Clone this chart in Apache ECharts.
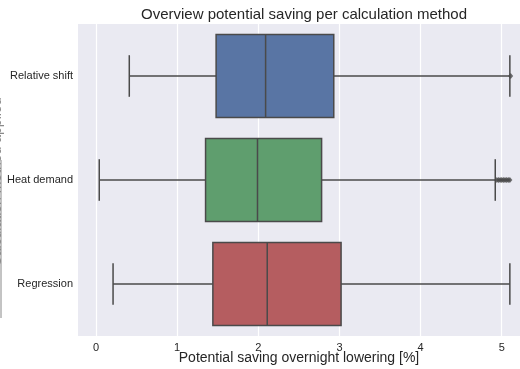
<!DOCTYPE html>
<html>
<head>
<meta charset="utf-8">
<script src="https://cdn.jsdelivr.net/npm/echarts@6/dist/echarts.min.js"></script>
<style>html,body{margin:0;padding:0;background:#fff}#c{width:520px;height:369px}</style>
</head>
<body>
<div id="c"></div>
<script>
var categories = ['Relative shift', 'Heat demand', 'Regression'];
var whiskerLow = [0.41, 0.04, 0.21];
var q1 = [1.48, 1.35, 1.44];
var medians = [2.09, 1.99, 2.11];
var q3 = [2.93, 2.78, 3.02];
var whiskerHigh = [5.10, 4.92, 5.10];
var boxColors = ['#5975A4', '#5F9E6E', '#B55D60'];
var outlierCategory = ['Relative shift', 'Heat demand', 'Heat demand', 'Heat demand', 'Heat demand', 'Heat demand', 'Heat demand', 'Heat demand', 'Heat demand', 'Heat demand'];
var outlierValues = [5.11, 4.94, 4.96, 4.98, 5.00, 5.02, 5.04, 5.06, 5.08, 5.10];
var xTicks = [0, 1, 2, 3, 4, 5];

var chart = echarts.init(document.getElementById('c'), null, {renderer: 'canvas'});
var fontFamily = '"Liberation Sans", Arial, sans-serif';
var edge = '#4a4a4a';

var boxData = categories.map(function (c, i) {
  return [i, whiskerLow[i], q1[i], medians[i], q3[i], whiskerHigh[i]];
});
var outData = outlierValues.map(function (v, i) { return [v, categories.indexOf(outlierCategory[i])]; });

function renderBox(params, api) {
  var ci = api.value(0);
  var band = api.size([0, 1])[1];
  var half = band * 0.4;
  var cap = band * 0.2;
  var pLow = api.coord([api.value(1), ci]);
  var pQ1 = api.coord([api.value(2), ci]);
  var pMed = api.coord([api.value(3), ci]);
  var pQ3 = api.coord([api.value(4), ci]);
  var pHigh = api.coord([api.value(5), ci]);
  var y = pQ1[1];
  var ls = {stroke: edge, lineWidth: 1.5, fill: null};
  return {
    type: 'group',
    children: [
      {type: 'line', shape: {x1: pLow[0], y1: y, x2: pQ1[0], y2: y}, style: ls},
      {type: 'line', shape: {x1: pQ3[0], y1: y, x2: pHigh[0], y2: y}, style: ls},
      {type: 'line', shape: {x1: pLow[0], y1: y - cap, x2: pLow[0], y2: y + cap}, style: ls},
      {type: 'line', shape: {x1: pHigh[0], y1: y - cap, x2: pHigh[0], y2: y + cap}, style: ls},
      {type: 'rect', shape: {x: pQ1[0], y: y - half, width: pQ3[0] - pQ1[0], height: 2 * half},
        style: {fill: boxColors[ci], stroke: edge, lineWidth: 1.5}},
      {type: 'line', shape: {x1: pMed[0], y1: y - half, x2: pMed[0], y2: y + half}, style: ls}
    ]
  };
}

chart.setOption({
  animation: false,
  backgroundColor: '#ffffff',
  title: {
    text: 'Overview potential saving per calculation method',
    left: 299, top: 2, textAlign: 'center',
    textStyle: {fontFamily: fontFamily, fontSize: 15, fontWeight: 'normal', color: '#262626'}
  },
  grid: {left: 78, right: 0, top: 24, bottom: 33, show: true, backgroundColor: '#EAEAF2', borderWidth: 0,
    containLabel: false, outerBoundsMode: 'none'},
  xAxis: {
    type: 'value', min: -0.222, max: 5.225,
    splitNumber: 5,
    name: 'Potential saving overnight lowering [%]',
    nameLocation: 'middle', nameGap: 15, nameMoveOverlap: false,
    nameTextStyle: {fontFamily: fontFamily, fontSize: 14, color: '#262626', verticalAlign: 'top'},
    axisLine: {show: false}, axisTick: {show: false},
    axisLabel: {
      fontFamily: fontFamily, fontSize: 11, color: '#262626', margin: 6,
      showMinLabel: false, showMaxLabel: false,
      formatter: function (v) { return xTicks.indexOf(v) >= 0 ? String(v) : ''; }
    },
    splitLine: {show: true, showMinLine: false, showMaxLine: false, lineStyle: {color: '#ffffff', width: 1.2}}
  },
  yAxis: {
    type: 'category', data: categories, inverse: true,
    axisLine: {show: false}, axisTick: {show: false},
    axisLabel: {fontFamily: fontFamily, fontSize: 11, color: '#262626', margin: 5},
    splitLine: {show: false}
  },
  series: [
    {
      type: 'custom',
      data: boxData,
      encode: {x: [1, 2, 3, 4, 5], y: 0},
      renderItem: renderBox
    },
    {
      type: 'scatter',
      data: outData,
      symbol: 'diamond',
      symbolSize: [5, 6],
      itemStyle: {color: edge}
    }
  ],
  graphic: [
    {
      type: 'text', x: 3.7, y: 182, rotation: Math.PI / 2,
      style: {text: 'Calculation method applied', fontFamily: fontFamily, fontSize: 14,
        fill: '#8a8a8a', textAlign: 'center', textVerticalAlign: 'bottom'}
    },
    {
      type: 'line', shape: {x1: 1, y1: 160, x2: 1, y2: 318},
      style: {stroke: '#888888', lineWidth: 1}
    }
  ]
});
</script>
</body>
</html>
